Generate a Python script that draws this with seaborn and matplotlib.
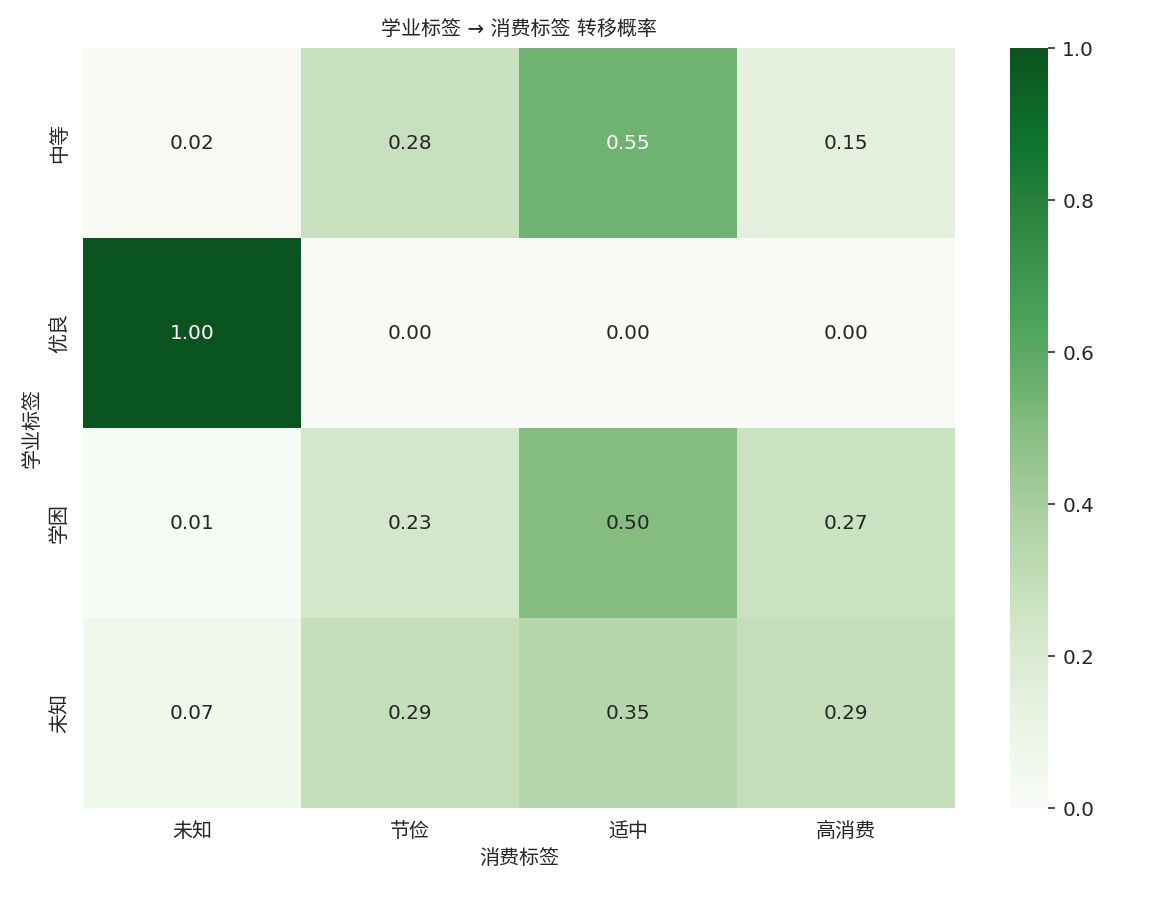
import colorsys
import numpy as np
import pandas as pd
import matplotlib
matplotlib.use('Agg')
import matplotlib.pyplot as plt
from matplotlib.colors import ListedColormap
import seaborn as sns

sns.set_style('white')
plt.rcParams['font.family'] = ['DejaVu Sans', 'Noto Sans CJK SC']
plt.rcParams['axes.unicode_minus'] = False

# rows: academic label, columns: consumption label
academic = ['中等', '优良', '学困', '未知']
consume = ['未知', '节俭', '适中', '高消费']
row_zd = [0.02, 0.28, 0.55, 0.15]
row_yl = [1.00, 0.00, 0.00, 0.00]
row_xk = [0.01, 0.23, 0.50, 0.27]
row_wz = [0.07, 0.29, 0.35, 0.29]

trans = pd.DataFrame([row_zd, row_yl, row_xk, row_wz], index=academic, columns=consume)

# slightly muted, slightly warmer version of Greens
base = plt.get_cmap('Greens')(np.linspace(0, 1, 256))[:, :3]
muted = []
for r, g, b in base:
    h, l, s = colorsys.rgb_to_hls(r, g, b)
    muted.append(colorsys.hls_to_rgb(h - 0.02, l + 0.07 * (1 - l) ** 2, s * 0.78))
cmap = ListedColormap(muted)

fig = plt.figure(figsize=(1166 / 144, 898 / 144), dpi=144)
ax = fig.add_axes([0.0712, 0.1002, 0.7478, 0.8463])
cax = fig.add_axes([0.866, 0.1002, 0.033, 0.8463])

sns.heatmap(trans, annot=True, fmt='.2f', cmap=cmap, vmin=0, vmax=1,
            ax=ax, cbar_ax=cax, annot_kws={'fontsize': 10})
ax.set_title('学业标签 → 消费标签 转移概率', fontsize=10)
ax.set_xlabel('消费标签', fontsize=10)
ax.set_ylabel('学业标签', fontsize=10)
ax.tick_params(labelsize=10)
cax.tick_params(labelsize=10)

fig.savefig('out.png', dpi=144)
